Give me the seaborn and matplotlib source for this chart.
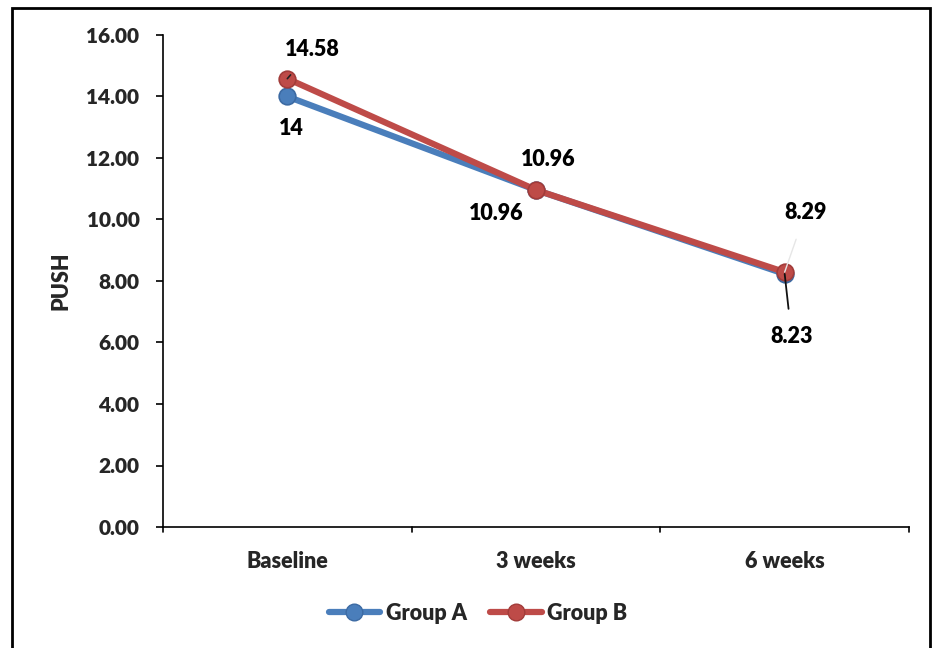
import matplotlib
matplotlib.use("Agg")
import matplotlib.pyplot as plt
from matplotlib.patches import Rectangle
from matplotlib.lines import Line2D
import seaborn as sns
import pandas as pd

# PUSH scores per assessment point
timepoints = ["Baseline", "3 weeks", "6 weeks"]
group_a = [14.00, 10.96, 8.23]
group_b = [14.58, 10.96, 8.29]
label_a = ["14", "10.96", "8.23"]
label_b = ["14.58", "10.96", "8.29"]
y_ticks = [0, 2, 4, 6, 8, 10, 12, 14, 16]

BLUE = "#4A7EBB"
RED = "#BE4B48"
FS = 15.5

sns.set_theme(style="white")
plt.rcParams["font.family"] = ["Lato", "DejaVu Sans"]
plt.rcParams["font.weight"] = "heavy"

df = pd.DataFrame({
    "time": timepoints * 2,
    "push": group_a + group_b,
    "group": ["Group A"] * 3 + ["Group B"] * 3,
})

fig = plt.figure(figsize=(9.33, 6.48), dpi=100)
ax = fig.add_axes([163 / 933, 1 - 527 / 648, (909 - 163) / 933, (527 - 35) / 648])

sns.lineplot(data=df, x="time", y="push", hue="group", palette=[BLUE, RED],
             marker="o", markersize=12, linewidth=4.5, markeredgewidth=1.2,
             ax=ax, legend=False, sort=False)
for ln, col in zip(ax.lines, ["#3C6AA3", "#A23C3A"]):
    ln.set_markeredgecolor(col)
    ln.set_solid_capstyle("round")

ax.set_xlim(-0.5, 2.5)
ax.set_ylim(0, 16)
ax.set_yticks(y_ticks)
ax.set_yticklabels([f"{v:.2f}" for v in y_ticks], fontsize=15, fontweight="heavy")
ax.set_xticks(range(len(timepoints)))
ax.set_xticklabels(timepoints, fontsize=FS, fontweight="heavy")
ax.tick_params(axis="x", length=0, pad=17)
ax.tick_params(axis="y", length=5, width=1.2, color="black", direction="out", pad=12, left=True)
for b in [-0.5, 0.5, 1.5, 2.5]:
    ax.plot([b, b], [0, -0.17], color="black", lw=1.2, clip_on=False)
ax.set_xlabel("")
ax.set_ylabel("PUSH", fontsize=FS, fontweight="heavy", labelpad=11)

for side in ["top", "right"]:
    ax.spines[side].set_visible(False)
for side in ["left", "bottom"]:
    ax.spines[side].set_color("black")
    ax.spines[side].set_linewidth(1.2)

# value labels with leader lines
kw = dict(textcoords="offset points", fontsize=FS, fontweight="heavy",
          ha="center", va="center", color="black")
ax.annotate(label_b[0], (0, group_b[0]), xytext=(18, 21),
            arrowprops=dict(arrowstyle="-", color="#222222", lw=1.2, shrinkA=11, shrinkB=0), **kw)
ax.annotate(label_a[0], (0, group_a[0]), xytext=(3, -23), **kw)
ax.annotate(label_b[1], (1, group_b[1]), xytext=(9, 22), **kw)
ax.annotate(label_a[1], (1, group_a[1]), xytext=(-29, -17), **kw)
ax.annotate(label_b[2], (2, group_b[2]), xytext=(15, 43),
            arrowprops=dict(arrowstyle="-", color="#e6e6e6", lw=1.0, shrinkA=10, shrinkB=0), **kw)
ax.annotate(label_a[2], (2, group_a[2]), xytext=(5, -45),
            arrowprops=dict(arrowstyle="-", color="#111111", lw=1.3, shrinkA=10, shrinkB=0), **kw)

handles = [
    Line2D([], [], color=BLUE, lw=4.5, marker="o", markersize=12,
           markeredgecolor="#3C6AA3", label="Group A"),
    Line2D([], [], color=RED, lw=4.5, marker="o", markersize=12,
           markeredgecolor="#A23C3A", label="Group B"),
]
fig.legend(handles=handles, loc="center", bbox_to_anchor=(478 / 933, 1 - 613 / 648),
           ncol=2, frameon=False, handlelength=2.4, handletextpad=0.25, columnspacing=1.1,
           prop=dict(size=FS, weight="heavy"))

# outer frame
fig.patches.append(Rectangle((12 / 933, -0.05), (930 - 12) / 933, 1 - 8 / 648 + 0.05,
                             transform=fig.transFigure, fill=False, edgecolor="black", lw=2))

fig.savefig("out.png", dpi=100)
